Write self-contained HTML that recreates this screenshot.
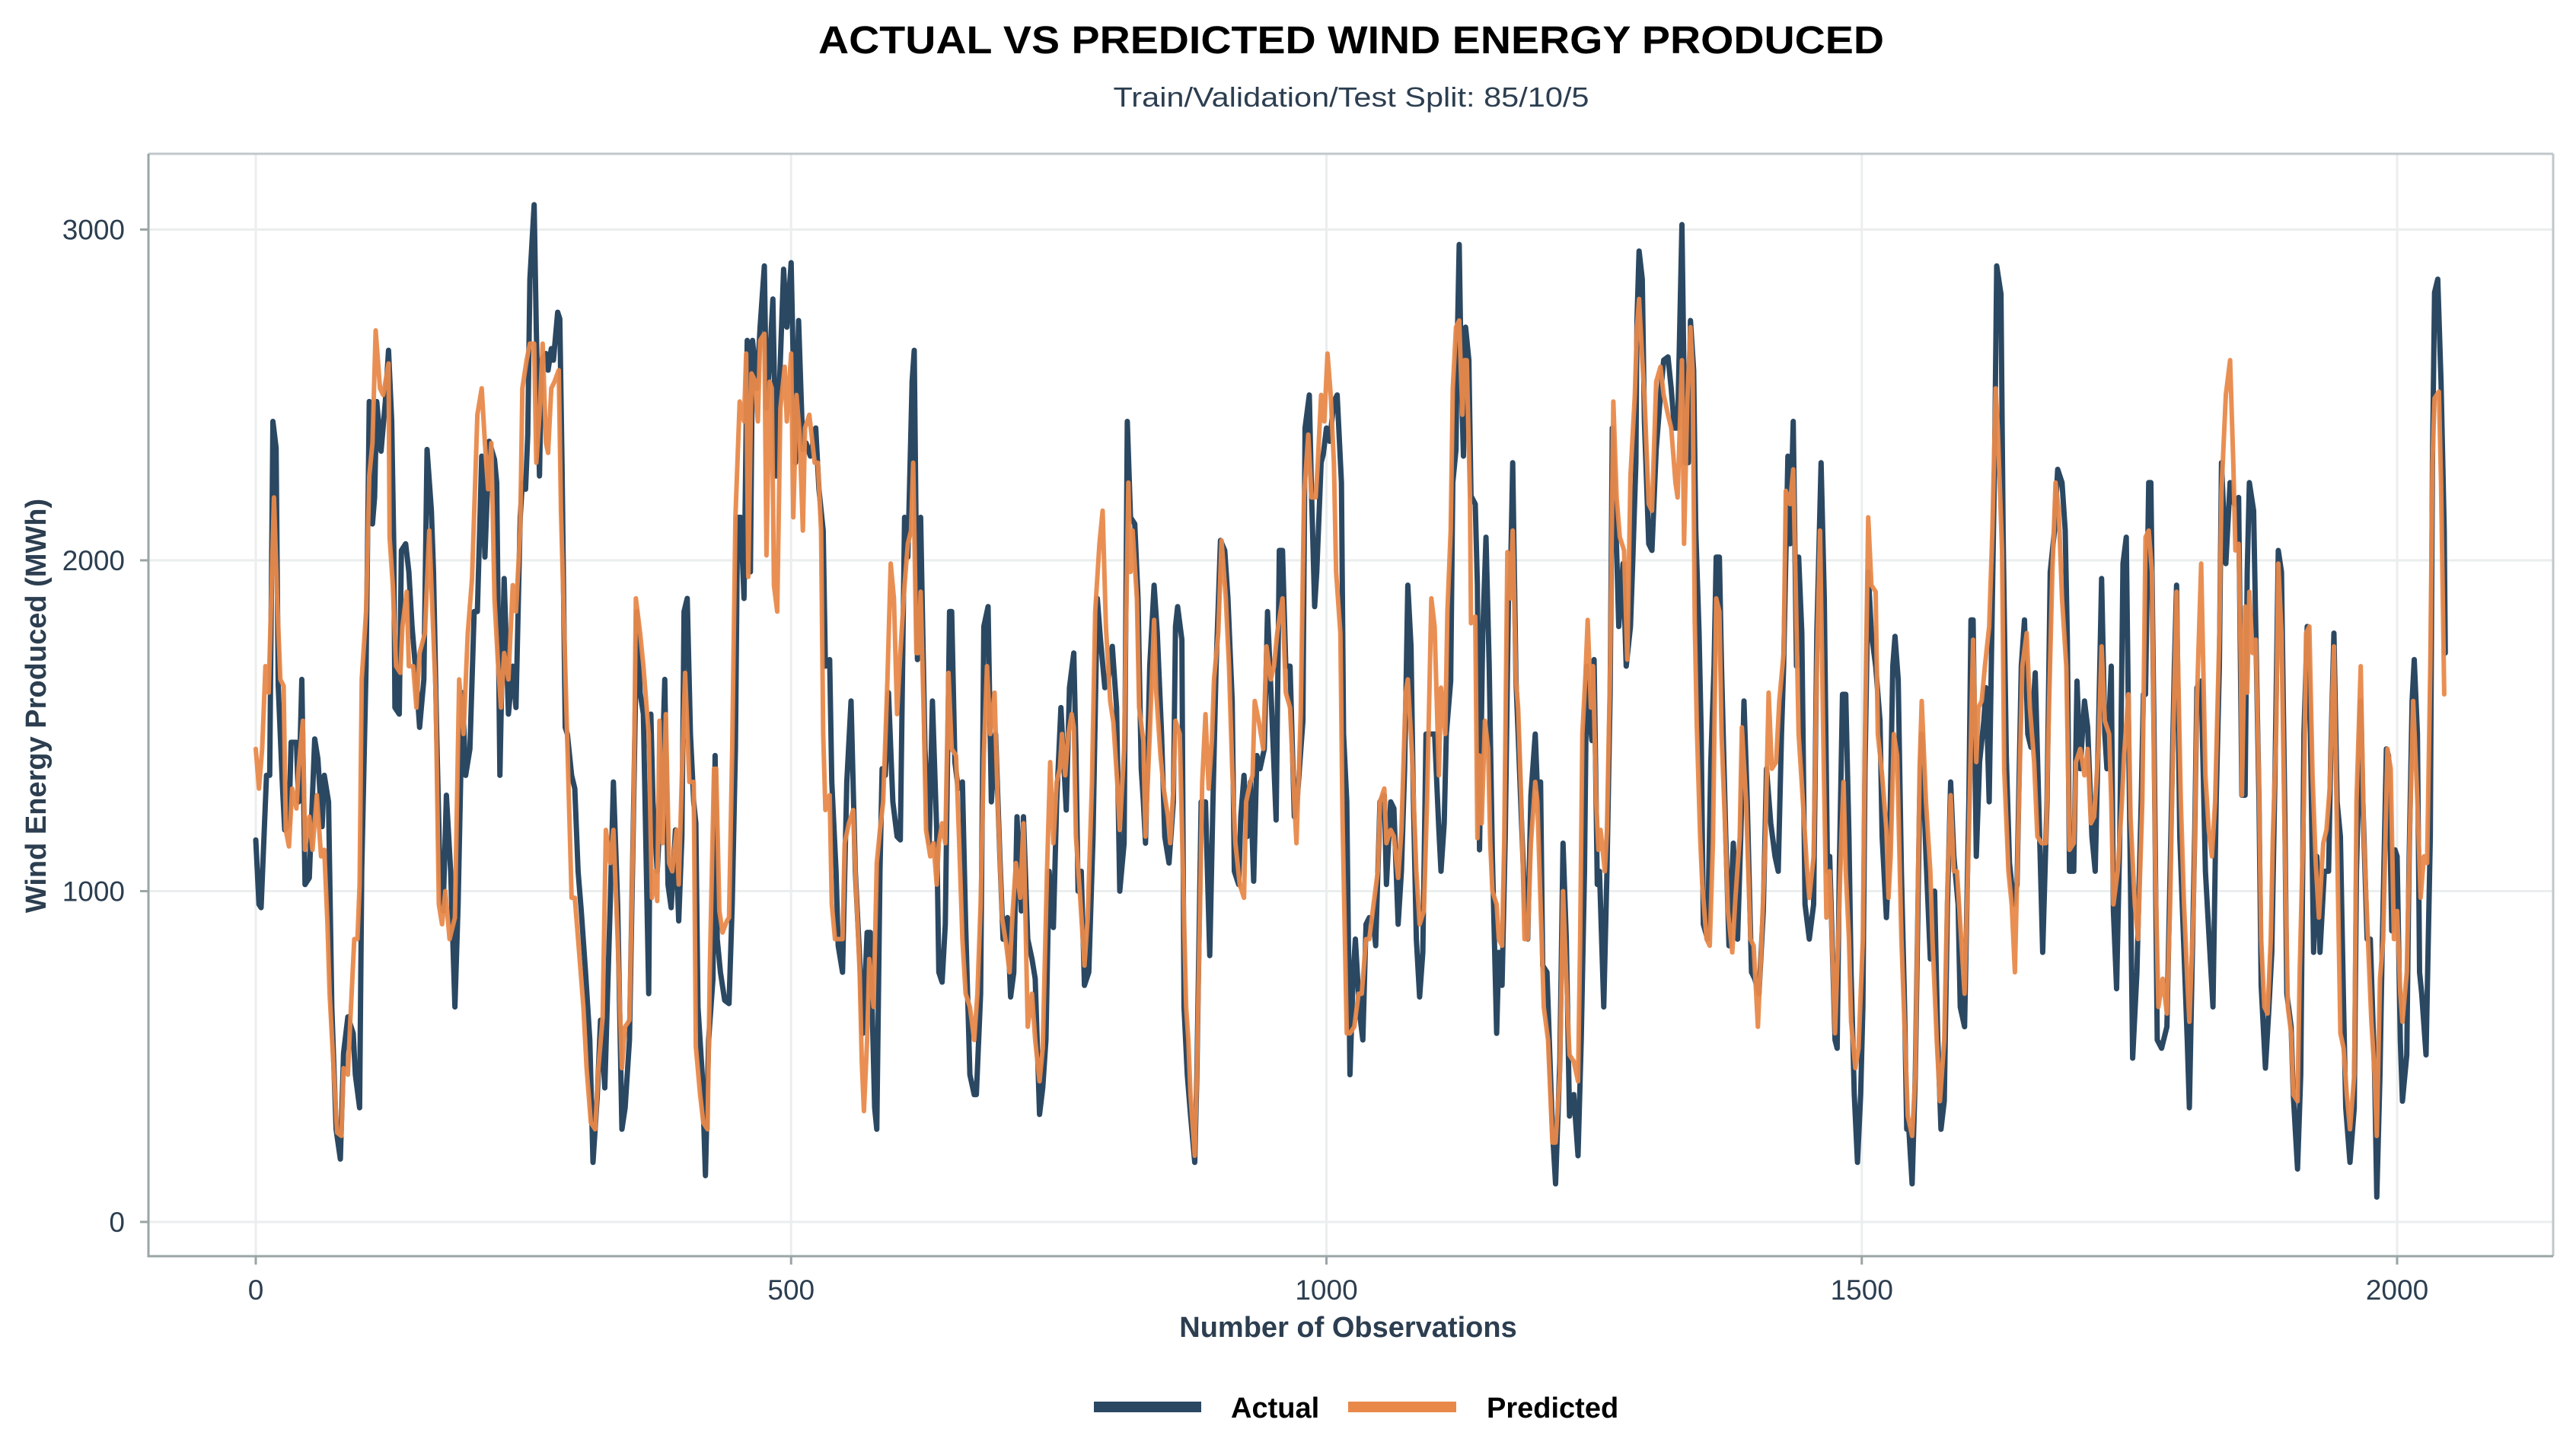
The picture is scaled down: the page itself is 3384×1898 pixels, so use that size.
<!DOCTYPE html>
<html>
<head>
<meta charset="utf-8">
<style>
html,body{margin:0;padding:0;background:#ffffff;}
svg{display:block;}
text{font-family:"Liberation Sans",Arial,sans-serif;}
</style>
</head>
<body>
<svg id="chart" xmlns="http://www.w3.org/2000/svg" width="3384" height="1898" viewBox="0 0 3384 1898">
  <rect x="0" y="0" width="3384" height="1898" fill="#ffffff"/>
  <text x="1775" y="70" text-anchor="middle" font-weight="bold" font-size="51" fill="#000000" textLength="1400" lengthAdjust="spacingAndGlyphs">ACTUAL VS PREDICTED WIND ENERGY PRODUCED</text>
  <text x="1775" y="140" text-anchor="middle" font-size="36" fill="#2c3e50" textLength="625" lengthAdjust="spacingAndGlyphs">Train/Validation/Test Split: 85/10/5</text>
  <g id="grid"></g>
  <g id="series"></g>
  <g id="axes"></g>
  <text x="1771" y="1756" text-anchor="middle" font-weight="bold" font-size="38" fill="#2c3e50">Number of Observations</text>
  <text x="0" y="0" transform="translate(60,927) rotate(-90)" text-anchor="middle" font-weight="bold" font-size="38" fill="#2c3e50">Wind Energy Produced (MWh)</text>
  <g>
    <g>
      <rect x="1437" y="1841" width="141" height="14" fill="#2b4862"/>
      <text x="1617" y="1862" font-weight="bold" font-size="38" fill="#000000">Actual</text>
    </g>
    <g>
      <rect x="1771" y="1841" width="142" height="14" fill="#e8894a"/>
      <text x="1953" y="1862" font-weight="bold" font-size="38" fill="#000000">Predicted</text>
    </g>
  </g>
</svg>
<script>
const xTicks = [0, 500, 1000, 1500, 2000];
const yTicks = [0, 1000, 2000, 3000];
const xTickLabels = ["0", "500", "1000", "1500", "2000"];
const yTickLabels = ["0", "1000", "2000", "3000"];

const actualSeg1 = [[0,1155],[3,960],[5,950],[10,1350],[13,1350],[16,2420],[19,2340],[21,1620],[25,1310],[27,1185],[31,1205],[33,1450],[38,1450],[40,1270],[43,1640],[46,1020],[50,1040],[55,1460],[58,1400],[62,1195],[64,1350],[68,1270],[71,650],[75,280],[79,190],[82,510],[86,620],[91,570],[93,445],[97,345],[99,1060],[103,1680],[106,2480],[109,2110],[111,2190],[113,2480],[117,2330],[121,2480],[124,2635],[127,2420],[129,2025],[130,1555],[134,1535],[136,2030],[140,2050],[143,1965],[146,1800],[150,1640],[153,1495],[157,1640],[160,2335],[164,2150],[166,1965],[169,1475],[172,1060],[175,940],[178,1290],[182,1060],[186,650],[189,960],[193,1600],[196,1350],[200,1430],[204,1845],[207,1845],[211,2315],[214,2010],[218,2360],[223,2305],[225,2235],[228,1350],[230,1680],[232,1945],[236,1535],[240,1680],[243,1555],[247,2130],[249,2235],[252,2215],[254,2380],[256,2850],[260,3075],[262,2700],[265,2255],[267,2605],[271,2625],[273,2575],[276,2640],[278,2605],[282,2750],[284,2730],[286,2295],[289,1495],[291,1475],[295,1350],[298,1310],[301,1060],[304,940],[308,755],[312,550],[315,180],[319,385],[322,610],[326,405],[331,960],[334,1330],[338,960],[342,280],[345,345],[349,550],[353,1270],[356,1845],[359,1600],[362,1535]];
const actualSeg2 = [[367,690],[369,1535],[371,1270],[375,1060],[379,1310],[382,1640],[385,1020],[388,950],[392,1185],[395,910],[398,1165],[400,1845],[403,1885],[406,1475],[409,1270],[411,1205],[413,650],[417,445],[420,140],[423,550],[427,735],[429,1410],[431,855],[434,755],[438,670],[442,660],[445,960],[448,1430],[450,2130],[453,2130],[456,1885],[459,2665],[462,1965],[464,2665],[468,2520],[471,2705],[475,2890],[477,2460],[480,2605],[483,2790],[486,2255],[489,2520],[493,2880],[496,2705],[500,2900],[504,2295],[507,2725],[511,2335],[514,2355],[518,2315],[523,2400],[526,2215],[530,2090],[532,1680],[536,1700],[538,1330],[542,1060],[544,835],[548,755],[552,1330],[556,1575],[560,1060],[564,795],[567,570],[571,875],[574,875],[578,345],[580,280],[583,1060],[585,1370],[588,1350],[591,1600],[595,1270],[599,1165],[602,1155],[606,2130],[609,2010],[613,2540],[615,2635],[618,1700],[621,2130],[625,1430],[629,1145],[632,1575],[636,1185],[638,755],[641,725],[644,900],[648,1845],[650,1845],[653,1390],[656,1310],[660,1330],[663,900],[667,445],[671,385],[673,385],[677,690],[680,1800],[684,1860],[687,1270],[691,1475],[695,1105],[698,855],[702,920],[705,680],[708,755],[711,1225],[715,940],[717,1225],[721,855],[725,795],[728,735],[732,325]];
const actualSeg3 = [[735,405],[738,550],[741,1060],[745,890],[748,1270],[752,1555],[754,1430],[757,1245],[760,1615],[764,1720],[766,1430],[768,1000],[771,1060],[774,715],[778,755],[782,1165],[786,1885],[789,1760],[793,1615],[796,1635],[800,1740],[804,1555],[807,1000],[811,1145],[814,2420],[817,2130],[821,2110],[824,1885],[827,1370],[829,1270],[831,1145],[835,1680],[839,1925],[842,1780],[846,1475],[849,1165],[853,1085],[857,1270],[859,1800],[861,1860],[865,1760],[867,650],[870,445],[873,325],[877,180],[879,445],[883,1270],[887,1270],[891,805],[894,1270],[897,1680],[901,2060],[905,2030],[908,1885],[912,1575],[914,1060],[918,1020],[920,1225],[923,1350],[926,1165],[929,1330],[932,1030],[935,1410],[938,1370],[942,1430],[945,1845],[948,1615],[953,1215],[956,2030],[959,2030],[962,1680],[966,1680],[970,1225],[973,1290],[978,1515],[980,2400],[984,2500],[986,2215],[989,1860],[991,1965],[995,2295],[997,2320],[1000,2400],[1003,2360],[1007,2480],[1010,2500],[1014,2235],[1016,1475],[1019,1270],[1022,445],[1025,755],[1027,855],[1031,630],[1034,550],[1037,900],[1040,920],[1044,900],[1046,835],[1050,1270],[1054,1290],[1056,1020],[1060,1270],[1063,1250],[1067,900],[1070,1060],[1073,1370],[1076,1925],[1079,1740],[1081,1310],[1084,855],[1087,680],[1090,815],[1093,1475],[1097,1475],[1101,1475]];
const actualSeg4 = [[1105,1185],[1107,1060],[1110,1205],[1112,1475],[1116,1635],[1118,2235],[1121,2335],[1122,2625],[1124,2955],[1126,2540],[1128,2315],[1130,2705],[1133,2605],[1135,2195],[1139,2170],[1141,1925],[1143,1125],[1146,1780],[1149,2070],[1152,1680],[1155,1105],[1159,570],[1161,815],[1164,715],[1167,1165],[1170,1885],[1172,1965],[1174,2295],[1177,1635],[1179,1475],[1182,1225],[1185,980],[1188,855],[1191,1290],[1195,1475],[1197,1310],[1200,1330],[1202,775],[1206,755],[1211,280],[1214,115],[1218,485],[1221,1145],[1224,855],[1227,320],[1231,385],[1235,200],[1238,550],[1241,1060],[1243,1680],[1246,1515],[1248,1455],[1250,1700],[1253,1020],[1255,1060],[1259,650],[1262,1060],[1265,1600],[1267,2400],[1271,2030],[1273,1800],[1277,1990],[1280,1680],[1284,1800],[1286,1990],[1289,2295],[1290,2725],[1292,2935],[1295,2850],[1297,2420],[1301,2050],[1304,2030],[1308,2335],[1312,2500],[1315,2605],[1319,2615],[1322,2520],[1325,2400],[1328,2400],[1332,3015],[1335,2295],[1338,2295],[1340,2725],[1343,2575],[1345,2090],[1348,1780],[1350,1475],[1352,900],[1356,855],[1359,1390],[1362,1680],[1364,2010],[1367,2010],[1369,1680],[1373,1165],[1376,835],[1380,1145],[1384,855],[1387,1165],[1390,1575],[1393,1270],[1397,755],[1400,735],[1404,690],[1408,940],[1411,1370],[1415,1205],[1419,1105],[1422,1060],[1425,1475],[1427,1680],[1431,2315],[1433,2050],[1436,2420],[1439,1680],[1441,2010],[1444,1780],[1447,960],[1451,855],[1455,960],[1458,1780],[1462,2295],[1465,1885],[1468,1060],[1470,1105]];
const actualSeg5 = [[1475,550],[1477,525],[1479,1060],[1482,1595],[1485,1595],[1488,1165],[1490,755],[1493,385],[1496,180],[1499,385],[1501,650],[1503,1370],[1506,1965],[1509,1780],[1513,1680],[1517,1515],[1519,1165],[1523,920],[1526,1145],[1529,1680],[1531,1770],[1534,1640],[1537,1060],[1540,650],[1542,280],[1544,280],[1547,115],[1550,445],[1554,1270],[1556,1475],[1560,1105],[1564,795],[1568,1000],[1571,550],[1574,280],[1577,365],[1580,960],[1583,1330],[1586,1105],[1590,960],[1592,650],[1596,590],[1600,1270],[1602,1820],[1604,1820],[1607,1105],[1610,1390],[1614,1515],[1616,1615],[1619,1270],[1621,1680],[1624,2295],[1626,2890],[1630,2805],[1632,2090],[1635,1410],[1638,1085],[1642,960],[1645,1020],[1649,1680],[1652,1820],[1655,1475],[1658,1435],[1662,1660],[1666,1185],[1669,815],[1673,1270],[1676,1965],[1680,2090],[1683,2275],[1687,2235],[1690,2090],[1692,1760],[1694,1060],[1698,1060],[1701,1635],[1704,1370],[1708,1575],[1711,1495],[1715,1165],[1718,1060],[1721,1475],[1724,1945],[1727,1475],[1729,1370],[1733,1680],[1735,940],[1738,705],[1741,1165],[1744,1990],[1747,2070],[1750,1270],[1753,495],[1757,755],[1761,1270],[1763,1595],[1765,1595],[1768,2235],[1770,2235],[1773,1475],[1776,550],[1780,525],[1785,590],[1788,1060],[1792,1680],[1794,1925],[1797,1165],[1800,900],[1804,550],[1806,345],[1809,855],[1811,1185],[1813,1615],[1817,1635],[1821,1060],[1824,880],[1828,650],[1831,1270],[1834,1680],[1836,2295],[1840,1990]];
const actualSeg6 = [[1844,2235],[1848,2170],[1852,2190],[1855,1290],[1858,1290],[1860,1965],[1862,2235],[1866,2150],[1868,1800],[1871,1270],[1873,715],[1877,465],[1880,630],[1883,815],[1886,1370],[1889,2030],[1892,1965],[1895,1270],[1897,690],[1901,590],[1903,385],[1907,160],[1910,445],[1913,1475],[1916,1800],[1919,1475],[1922,815],[1925,1105],[1928,815],[1932,1060],[1936,1060],[1938,1410],[1941,1780],[1944,1270],[1947,1165],[1950,650],[1952,345],[1956,180],[1960,345],[1962,1060],[1966,1575],[1968,1270],[1972,855],[1975,855],[1979,445],[1981,75],[1984,445],[1986,815],[1990,1430],[1992,1410],[1995,880],[1998,1125],[2000,1105],[2003,550],[2005,365],[2009,505],[2011,1060],[2014,1575],[2016,1700],[2019,1475],[2021,755],[2023,690],[2027,505],[2031,1165],[2033,2295],[2035,2810],[2038,2850],[2041,2540],[2044,2090],[2045,1720]];

const predSeg1 = [[0,1430],[3,1310],[6,1430],[9,1680],[12,1600],[17,2190],[20,1885],[23,1640],[26,1620],[28,1185],[31,1135],[34,1310],[38,1250],[40,1370],[44,1515],[46,1125],[50,1225],[53,1125],[57,1290],[61,1105],[64,1125],[67,900],[69,690],[73,445],[76,270],[80,260],[82,465],[86,445],[88,590],[92,855],[95,855],[97,1020],[99,1640],[103,1845],[106,2255],[109,2355],[112,2695],[116,2520],[119,2500],[124,2595],[125,2070],[128,1925],[131,1680],[135,1660],[137,1800],[141,1905],[143,1680],[147,1680],[150,1555],[153,1720],[158,1780],[162,2090],[164,1925],[168,1600],[171,960],[174,900],[177,1000],[181,855],[186,920],[190,1640],[194,1475],[198,1780],[202,1945],[207,2440],[211,2520],[214,2355],[217,2215],[220,2355],[223,1885],[226,1700],[229,1555],[232,1720],[236,1640],[240,1925],[243,1845],[247,2090],[249,2520],[253,2605],[256,2655],[260,2655],[262,2295],[265,2440],[268,2655],[271,2355],[273,2325],[276,2520],[279,2540],[283,2575],[285,2150],[289,1680],[292,1330],[295,980],[298,980],[302,815],[306,650],[309,465],[313,300],[317,280],[320,465],[324,620],[327,1185],[331,1085],[334,1185],[338,855],[342,465],[345,590],[349,610],[353,1270],[355,1885],[359,1780],[362,1680]];
const predSeg2 = [[367,1475],[370,980],[373,1060],[375,970],[377,1515],[380,1145],[383,1535],[386,1085],[389,1060],[393,1185],[395,1020],[398,1350],[401,1660],[405,1330],[409,1330],[411,530],[415,385],[418,300],[422,280],[424,755],[428,1370],[430,1370],[433,940],[436,875],[440,910],[442,920],[445,1430],[448,2130],[452,2480],[456,2420],[458,2625],[460,1950],[463,2565],[466,2545],[469,2420],[471,2665],[475,2685],[477,2015],[480,2540],[482,2520],[484,1925],[487,1845],[490,2460],[494,2585],[496,2420],[500,2625],[502,2130],[505,2500],[508,2380],[511,2090],[513,2400],[517,2440],[522,2295],[525,2295],[528,2090],[530,1475],[532,1245],[536,1290],[538,960],[541,855],[544,855],[548,855],[550,1145],[554,1205],[558,1245],[560,1060],[564,755],[566,485],[568,335],[571,550],[573,795],[577,650],[580,1085],[583,1185],[586,1270],[590,1640],[593,1990],[596,1885],[599,1535],[602,1720],[606,1925],[609,2050],[612,2090],[614,2295],[617,1720],[619,1720],[621,1905],[624,1515],[626,1185],[630,1105],[633,1145],[636,1020],[638,1145],[641,1205],[644,1145],[647,1660],[650,1430],[654,1410],[657,1145],[660,855],[663,690],[667,650],[671,550],[674,690],[677,960],[680,1410],[683,1680],[686,1475],[690,1600],[693,1270],[697,920],[701,835],[704,755],[707,940],[710,1085],[714,980],[717,1205],[721,590],[725,690],[728,550],[732,425]];
const predSeg3 = [[735,525],[739,1060],[742,1390],[745,1145],[748,1330],[751,1370],[753,1475],[756,1350],[759,1475],[762,1535],[764,1495],[766,1165],[770,980],[774,775],[777,920],[781,1330],[784,1845],[788,2050],[791,2150],[794,1800],[798,1575],[801,1510],[805,1310],[807,1185],[811,1430],[815,2235],[817,1965],[819,2090],[823,1885],[825,1555],[829,1455],[831,1165],[835,1475],[839,1820],[841,1600],[845,1410],[848,1310],[852,1225],[854,1145],[857,1310],[859,1515],[863,1475],[866,1060],[869,650],[871,550],[873,385],[877,200],[879,445],[882,960],[884,1330],[887,1535],[890,1310],[893,1455],[895,1640],[899,1780],[902,2060],[906,1885],[909,1680],[912,1370],[915,1145],[919,1020],[923,980],[925,1270],[929,1330],[931,1350],[933,1575],[937,1510],[941,1430],[944,1740],[948,1640],[951,1680],[954,1780],[959,1885],[962,1600],[966,1555],[970,1270],[972,1145],[976,1535],[979,2190],[983,2380],[986,2190],[990,2190],[992,2295],[995,2500],[998,2420],[1001,2625],[1004,2500],[1007,2295],[1009,1965],[1013,1780],[1015,1225],[1019,570],[1022,570],[1026,590],[1030,690],[1033,690],[1037,855],[1040,855],[1044,960],[1048,1060],[1050,1270],[1054,1310],[1056,1145],[1060,1185],[1063,1165],[1067,1040],[1070,1185],[1074,1600],[1076,1640],[1080,1410],[1084,1060],[1087,900],[1091,940],[1094,1270],[1098,1885],[1101,1800]];
const predSeg4 = [[1105,1350],[1107,1615],[1111,1475],[1113,1845],[1116,2090],[1118,2520],[1121,2705],[1124,2725],[1127,2440],[1129,2605],[1131,2605],[1134,2195],[1135,1810],[1139,1830],[1141,1160],[1143,1410],[1145,1205],[1148,1515],[1151,1430],[1153,1145],[1155,1000],[1159,960],[1161,855],[1164,835],[1166,1145],[1169,2025],[1172,1885],[1174,2090],[1177,1635],[1179,1555],[1182,1270],[1185,855],[1188,855],[1191,1145],[1195,1330],[1197,1270],[1201,855],[1203,650],[1207,550],[1211,240],[1214,240],[1218,445],[1221,1000],[1225,650],[1227,505],[1231,485],[1235,425],[1237,855],[1239,1475],[1242,1660],[1244,1820],[1247,1555],[1249,1680],[1252,1270],[1254,1125],[1256,1185],[1260,1060],[1262,1185],[1265,1680],[1268,2480],[1271,2190],[1274,2070],[1278,2030],[1281,1700],[1284,2255],[1288,2500],[1290,2705],[1292,2790],[1295,2605],[1297,2500],[1301,2170],[1304,2150],[1308,2540],[1312,2585],[1315,2500],[1319,2440],[1322,2400],[1326,2235],[1328,2190],[1332,2605],[1334,2050],[1337,2480],[1340,2705],[1342,2575],[1344,1820],[1346,1495],[1349,1165],[1351,1020],[1355,855],[1358,835],[1361,1145],[1364,1885],[1367,1845],[1369,1475],[1372,1225],[1375,940],[1379,815],[1382,980],[1386,1165],[1388,1495],[1392,1270],[1396,855],[1399,835],[1403,590],[1406,815],[1410,1165],[1413,1600],[1416,1370],[1420,1390],[1423,1575],[1427,1720],[1429,2210],[1433,2170],[1436,2275],[1439,1800],[1441,1475],[1445,1270],[1449,1060],[1451,980],[1455,1105],[1458,1680],[1461,2090],[1464,1475],[1467,920],[1470,1060]];
const predSeg5 = [[1475,570],[1478,855],[1481,1165],[1483,1330],[1485,1060],[1488,855],[1490,605],[1494,465],[1497,525],[1501,855],[1503,1475],[1506,2130],[1509,1925],[1513,1905],[1515,1475],[1519,1350],[1523,1185],[1525,980],[1527,1105],[1530,1475],[1533,1410],[1537,855],[1540,590],[1543,320],[1547,260],[1550,445],[1554,1370],[1556,1575],[1560,1270],[1564,1060],[1566,855],[1570,550],[1573,365],[1577,550],[1580,1020],[1583,1290],[1586,1060],[1589,1060],[1592,900],[1596,690],[1600,1165],[1604,1760],[1607,1390],[1609,1555],[1612,1575],[1615,1680],[1619,1800],[1622,2090],[1625,2520],[1627,2400],[1631,2030],[1633,1370],[1637,1060],[1640,960],[1643,755],[1646,1165],[1650,1680],[1654,1780],[1657,1555],[1661,1390],[1664,1165],[1668,1145],[1672,1145],[1675,1575],[1678,1965],[1681,2235],[1684,2150],[1687,1885],[1691,1680],[1694,1125],[1698,1145],[1700,1390],[1704,1430],[1708,1350],[1711,1430],[1714,1205],[1717,1225],[1721,1430],[1724,1740],[1727,1515],[1731,1475],[1733,1270],[1735,960],[1739,1060],[1743,1270],[1745,1410],[1749,1595],[1751,1225],[1755,960],[1758,855],[1762,1270],[1765,2070],[1768,2090],[1771,1965],[1774,1105],[1777,650],[1781,735],[1785,630],[1788,960],[1791,1475],[1794,1905],[1798,1270],[1801,960],[1804,735],[1806,605],[1810,960],[1813,1575],[1817,1990],[1821,1350],[1824,1185],[1827,1105],[1830,1270],[1834,1780],[1836,2210],[1840,2500]];
const predSeg6 = [[1844,2605],[1847,2295],[1849,2030],[1852,2050],[1854,1680],[1855,1290],[1858,1860],[1860,1600],[1862,1905],[1865,1720],[1868,1760],[1871,1310],[1873,855],[1876,650],[1879,630],[1882,855],[1884,1165],[1887,1475],[1889,1990],[1892,1780],[1895,1165],[1898,650],[1901,570],[1903,385],[1907,365],[1909,755],[1913,1270],[1915,1780],[1918,1800],[1921,1350],[1924,1085],[1927,920],[1931,1145],[1934,1185],[1937,1310],[1941,1740],[1944,1145],[1947,570],[1950,525],[1953,385],[1956,280],[1960,445],[1962,1270],[1966,1680],[1969,1165],[1973,835],[1976,605],[1979,445],[1981,260],[1984,735],[1987,855],[1991,1430],[1994,1370],[1997,855],[2000,940],[2003,690],[2005,605],[2009,755],[2011,1060],[2015,1575],[2019,1270],[2022,980],[2025,1105],[2028,1085],[2031,1680],[2033,2295],[2035,2490],[2039,2510],[2041,2235],[2044,1595]];

const actualSeries = actualSeg1.concat(actualSeg2, actualSeg3, actualSeg4, actualSeg5, actualSeg6);
const predictedSeries = predSeg1.concat(predSeg2, predSeg3, predSeg4, predSeg5, predSeg6);

const NS = "http://www.w3.org/2000/svg";
const PLOT = {left: 195, right: 3354, top: 202, bottom: 1650};
const X0 = 336, XPER = 1.4065;
const Y0 = 1605, YPER = 0.4345;
function xScale(o){ return X0 + o * XPER; }
function yScale(v){ return Y0 - v * YPER; }

function mk(tag, attrs){
  const el = document.createElementNS(NS, tag);
  for (const k in attrs) el.setAttribute(k, attrs[k]);
  return el;
}

const grid = document.getElementById('grid');
const axes = document.getElementById('axes');
const series = document.getElementById('series');

const panel = mk('rect', {x: PLOT.left, y: PLOT.top, width: PLOT.right-PLOT.left, height: PLOT.bottom-PLOT.top, fill: '#ffffff'});


grid.appendChild(panel);

yTicks.forEach((v, i) => {
  const y = yScale(v);
  const gl = mk('line', {x1: PLOT.left, x2: PLOT.right, y1: y, y2: y, stroke: '#ebeeee', 'stroke-width': 3});
  
  
  grid.appendChild(gl);
});
xTicks.forEach((v, i) => {
  const x = xScale(v);
  const gl = mk('line', {x1: x, x2: x, y1: PLOT.top, y2: PLOT.bottom, stroke: '#ebeeee', 'stroke-width': 3});
  
  
  grid.appendChild(gl);
});

function pathFrom(data){
  return data.map((p, i) => (i ? 'L' : 'M') + xScale(p[0]).toFixed(1) + ' ' + yScale(p[1]).toFixed(1)).join(' ');
}

const actualPath = mk('path', {d: pathFrom(actualSeries), fill: 'none', stroke: '#2b4862', 'stroke-width': 7, 'stroke-linejoin': 'round', 'stroke-linecap': 'round'});


series.appendChild(actualPath);

const predPath = mk('path', {d: pathFrom(predictedSeries), fill: 'none', stroke: '#e8894a', 'stroke-opacity': 0.95, 'stroke-width': 6, 'stroke-linejoin': 'round', 'stroke-linecap': 'round'});


series.appendChild(predPath);

const topB = mk('line', {x1: PLOT.left, x2: PLOT.right, y1: PLOT.top, y2: PLOT.top, stroke: '#c1c7ca', 'stroke-width': 3});


axes.appendChild(topB);
const rightB = mk('line', {x1: PLOT.right, x2: PLOT.right, y1: PLOT.top, y2: PLOT.bottom, stroke: '#c1c7ca', 'stroke-width': 3});


axes.appendChild(rightB);
const leftB = mk('line', {x1: PLOT.left, x2: PLOT.left, y1: PLOT.top, y2: PLOT.bottom + 1.5, stroke: '#9aa5a6', 'stroke-width': 3});


axes.appendChild(leftB);
const botB = mk('line', {x1: PLOT.left - 1.5, x2: PLOT.right, y1: PLOT.bottom, y2: PLOT.bottom, stroke: '#9aa5a6', 'stroke-width': 3});


axes.appendChild(botB);

yTicks.forEach((v, i) => {
  const y = yScale(v);
  const tk = mk('line', {x1: PLOT.left - 11, x2: PLOT.left, y1: y, y2: y, stroke: '#9aa5a6', 'stroke-width': 3});
  
  
  axes.appendChild(tk);
  const t = mk('text', {x: 164, y: y + 13, 'text-anchor': 'end', 'font-size': 37, fill: '#2c3e50'});
  t.textContent = yTickLabels[i];
  
  
  axes.appendChild(t);
});
xTicks.forEach((v, i) => {
  const x = xScale(v);
  const tk = mk('line', {x1: x, x2: x, y1: PLOT.bottom, y2: PLOT.bottom + 11, stroke: '#9aa5a6', 'stroke-width': 3});
  
  
  axes.appendChild(tk);
  const t = mk('text', {x: x, y: 1707, 'text-anchor': 'middle', 'font-size': 37, fill: '#2c3e50'});
  t.textContent = xTickLabels[i];
  
  
  axes.appendChild(t);
});
</script>
</body>
</html>
